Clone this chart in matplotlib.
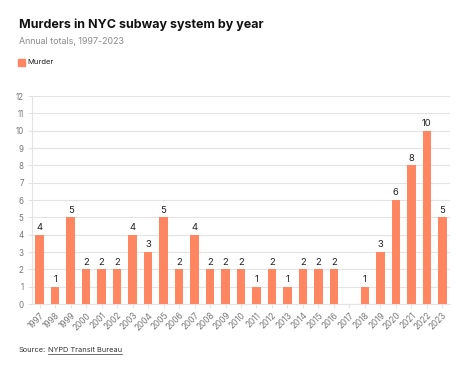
import matplotlib.pyplot as plt

years = [str(y) for y in range(1997, 2024)]
murders = [4, 1, 5, 2, 2, 2, 4, 3, 5, 2, 4, 2, 2, 2, 1, 2, 1, 2, 2, 2, 0, 1, 3, 6, 8, 10, 5]
yticks = list(range(0, 13))

bar_color = "#ff8660"
grid_color = "#e3e3e3"
tick_color = "#777777"

plt.rcParams["font.family"] = ["Inter", "DejaVu Sans"]

fig = plt.figure(figsize=(4.74, 3.67), dpi=100)
ax = fig.add_axes([32 / 474, 1 - 304 / 367, 418 / 474, 208 / 367])

x = range(len(years))
bars = ax.bar(x, murders, width=0.55, color=bar_color, zorder=3)
for xi, v in zip(x, murders):
    if v > 0:
        ax.text(xi, v + 0.15, str(v), ha="center", va="bottom", fontsize=6.8, color="#222222")

ax.set_xlim(-0.5, len(years) - 0.5)
ax.set_ylim(0, 12)
ax.set_yticks(yticks)
ax.set_yticklabels([str(t) for t in yticks], fontsize=5.8, color=tick_color)
ax.set_xticks(list(x))
ax.set_xticklabels(years, rotation=45, ha="right", rotation_mode="anchor", fontsize=6, color=tick_color)
ax.tick_params(axis="y", length=3, color=grid_color, pad=3)
ax.tick_params(axis="x", length=3, color=grid_color, pad=2)
ax.grid(axis="y", color=grid_color, linewidth=0.8, zorder=0)
for side in ["top", "right"]:
    ax.spines[side].set_visible(False)
for side in ["left", "bottom"]:
    ax.spines[side].set_color(grid_color)
    ax.spines[side].set_linewidth(0.8)

fig.text(19 / 474, 1 - 25 / 367, "Murders in NYC subway system by year", fontsize=9,
         fontweight="bold", color="#111111", va="center")
fig.text(19 / 474, 1 - 42 / 367, "Annual totals, 1997-2023", fontsize=6.4, color="#8a8a8a", va="center")

fig.patches.append(plt.Rectangle((18 / 474, 1 - 66 / 367), 7 / 474, 7 / 367,
                                 transform=fig.transFigure, color=bar_color))
fig.text(27 / 474, 1 - 62.5 / 367, "Murder", fontsize=5.5, color="#222222", va="center")

src_label = fig.text(19 / 474, 1 - 350 / 367, "Source:", fontsize=5.3, color="#333333", va="center")
src = ax.annotate("NYPD Transit Bureau", xy=(1, 0.5), xycoords=src_label,
                  xytext=(1.5, 0), textcoords="offset points",
                  fontsize=5.3, color="#333333", va="center", ha="left",
                  annotation_clip=False)
fig.canvas.draw()
bb = src.get_window_extent().transformed(fig.transFigure.inverted())
fig.add_artist(plt.Line2D([bb.x0, bb.x1], [bb.y0 - 0.002, bb.y0 - 0.002],
                          transform=fig.transFigure, color="#333333", linewidth=0.5))

fig.savefig("out.png", dpi=100)
